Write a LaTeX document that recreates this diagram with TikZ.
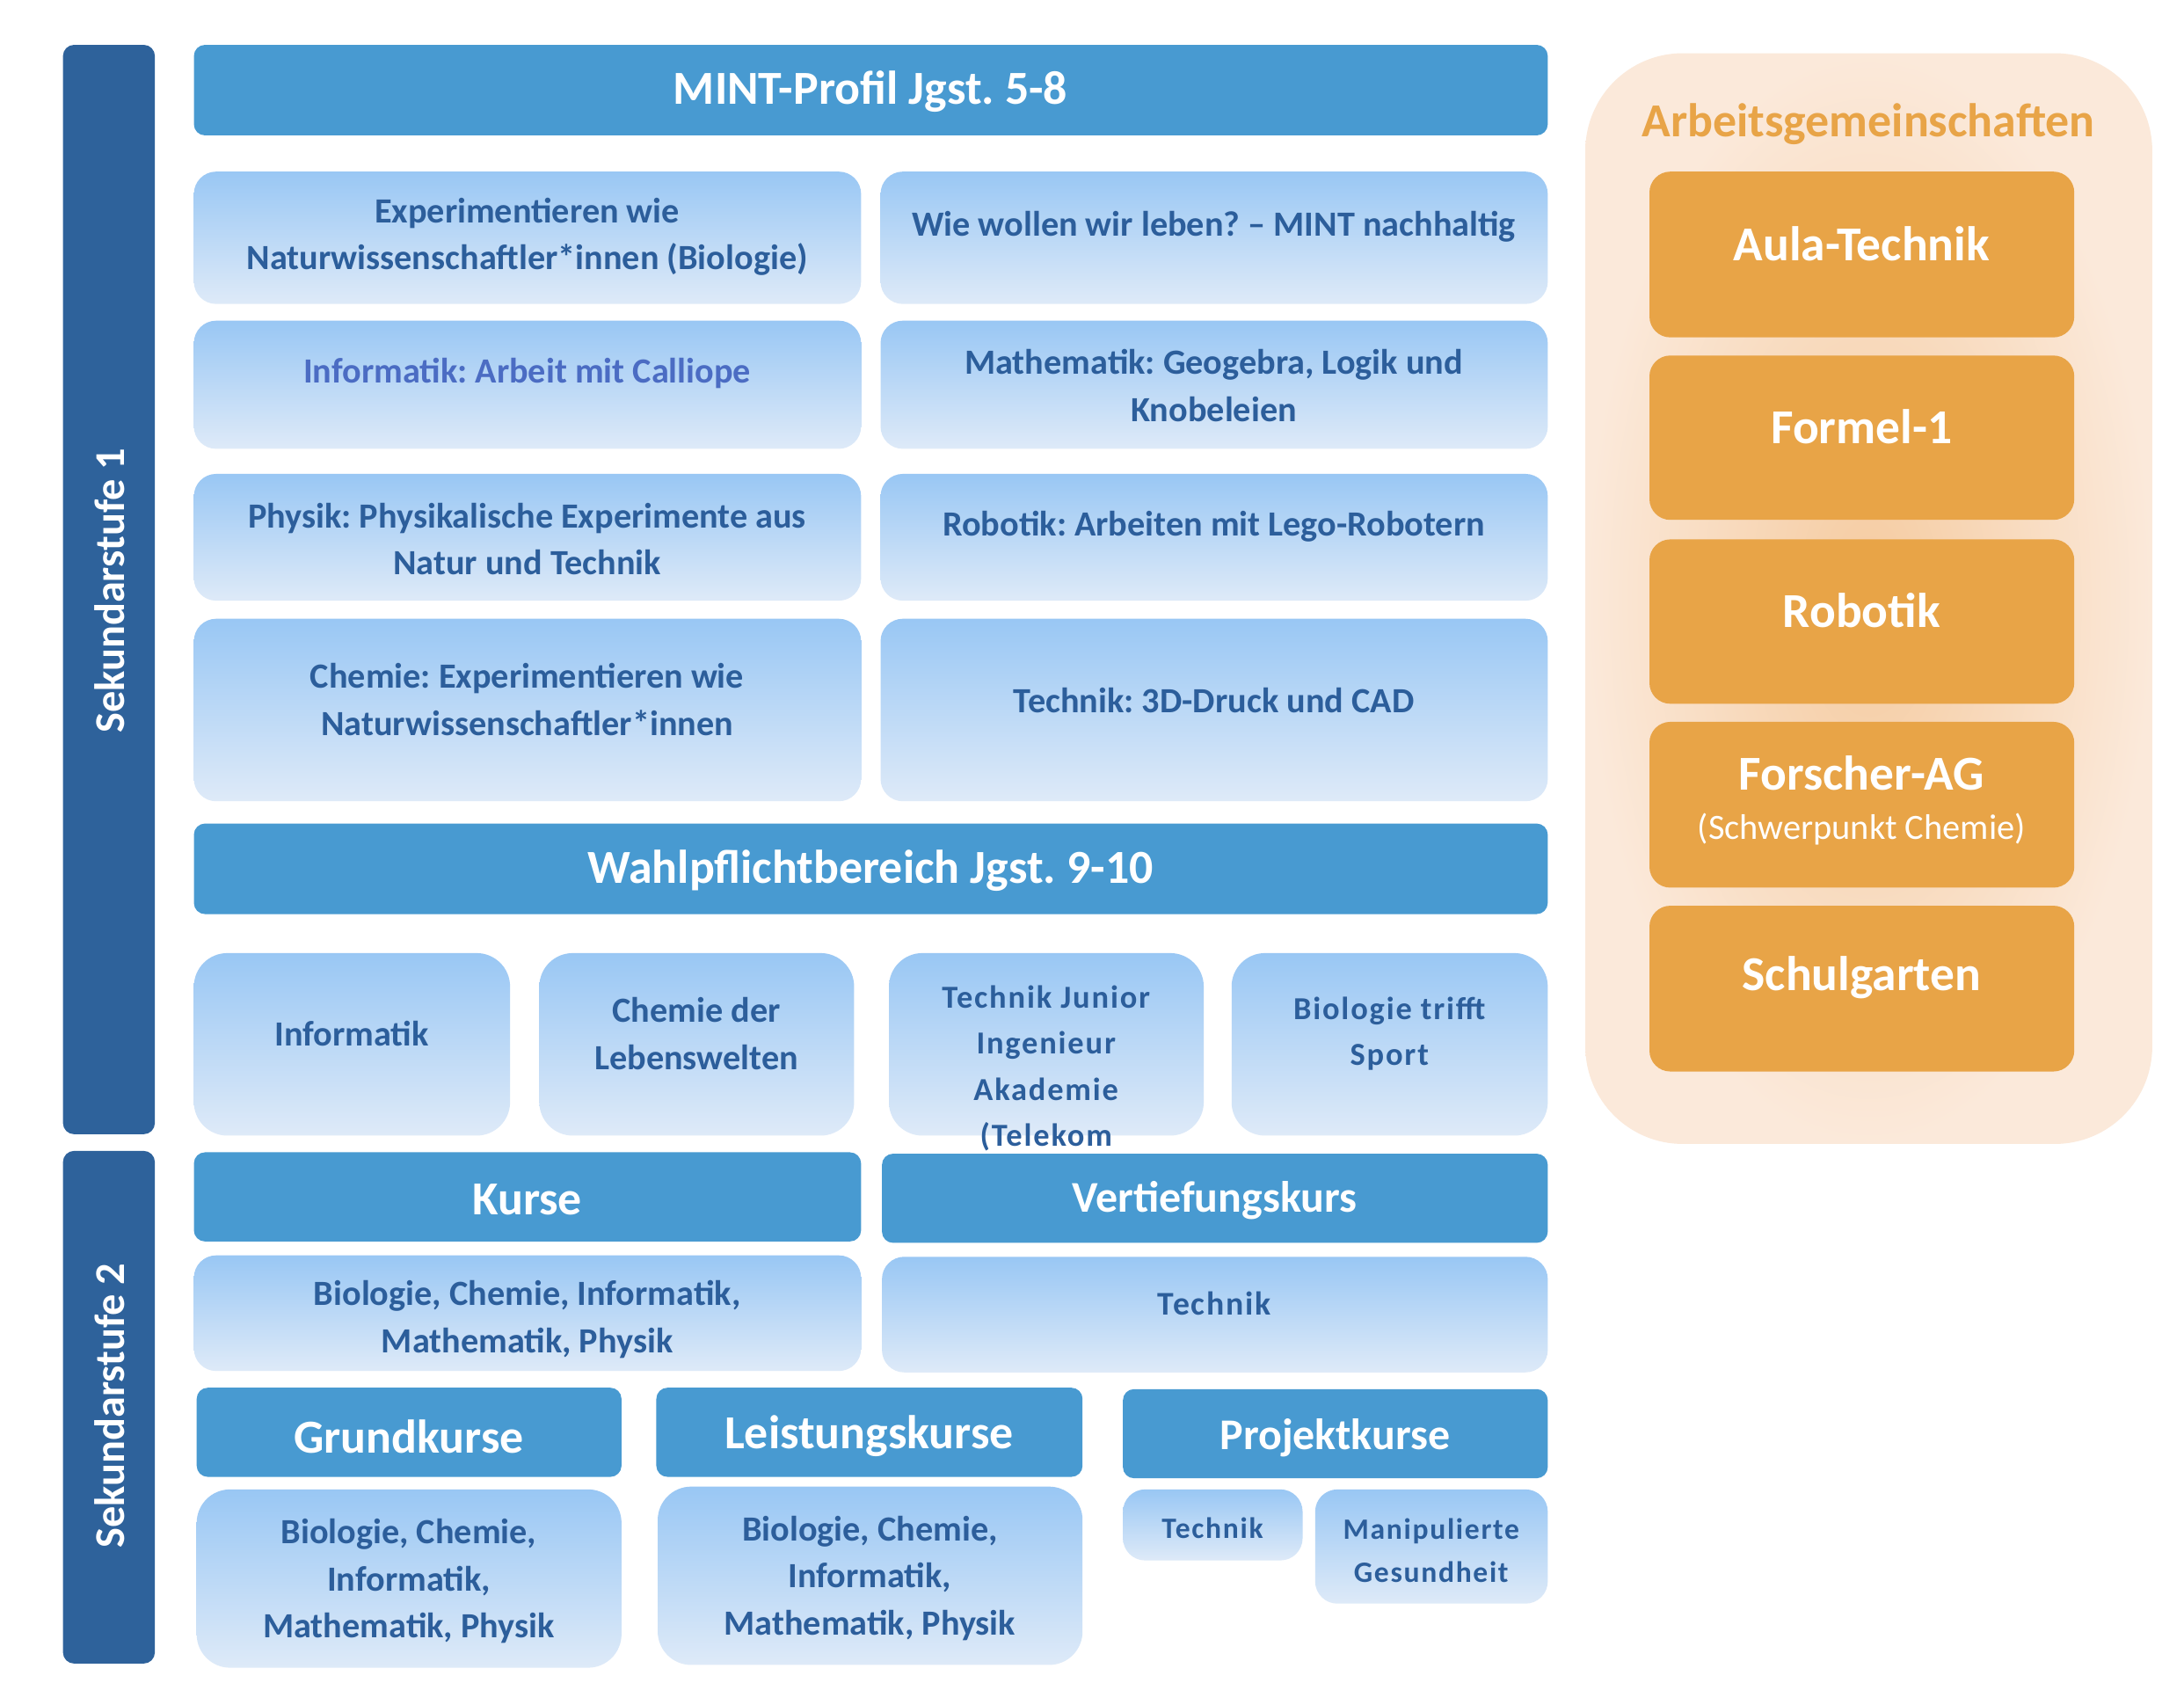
\documentclass[tikz,border=0pt]{standalone}
\usepackage{fontspec}
\setmainfont{Carlito}
\newfontfamily\widef{Carlito}[LetterSpace=5]
\frenchspacing
\definecolor{hdr}{HTML}{489AD1}
\definecolor{sek}{HTML}{2E629B}
\definecolor{bxtop}{HTML}{99C7F4}
\definecolor{bxbot}{HTML}{DEEAF8}
\definecolor{txtb}{HTML}{2C5E9B}
\definecolor{calli}{HTML}{4B6CC3}
\definecolor{org}{HTML}{E8A447}
\definecolor{peachin}{HTML}{F5CBA0}
\definecolor{peachout}{HTML}{FBE9DA}
\newcommand\bx[6]{\node[#2, anchor=north west, inner sep=0pt, minimum width={(#5)-(#3)}, minimum height={(#6)-(#4)}] (#1) at (#3,#4) {};}
\tikzset{
  hdrbox/.style={fill=hdr, rounded corners=8pt},
  sekbar/.style={fill=sek, rounded corners=8pt},
  cbox/.style={top color=bxtop, bottom color=bxbot, rounded corners=16pt},
  wbox/.style={top color=bxtop, bottom color=bxbot, rounded corners=24pt},
  obox/.style={fill=org, rounded corners=15pt},
  agbox/.style={inner color=peachin, outer color=peachout, rounded corners=70pt},
  htxt/.style={text=white, font=\bfseries\fontsize{34}{38}\selectfont},
  h2txt/.style={text=white, font=\bfseries\fontsize{34}{38}\selectfont},
  h3txt/.style={text=white, font=\bfseries\fontsize{31.5}{36}\selectfont},
  ctxt/.style={text=txtb, align=center, font=\bfseries\fontsize{25.4}{34}\selectfont},
  wtxt/.style={text=txtb, align=center, font=\widef\bfseries\fontsize{23}{33}\selectfont},
  ptxt/.style={text=txtb, align=center, font=\widef\bfseries\fontsize{21.2}{31}\selectfont},
  otxt/.style={text=white, font=\bfseries\fontsize{35}{40}\selectfont},
  sektxt/.style={text=white, rotate=90, font=\bfseries\fontsize{30.5}{34}\selectfont}
}
\begin{document}
\begin{tikzpicture}[x=1pt,y=-1pt]
\useasboundingbox (0,0) rectangle (1568,1208);
\fill[white] (0,0) rectangle (1568,1208);
% Sekundarstufe bars
\bx{s1}{sekbar}{45}{32}{111}{814}
\node[sektxt] (s1t) at (79,424) {Sekundarstufe 1};
\bx{s2}{sekbar}{45}{826}{111}{1194}
\node[sektxt] (s2t) at (79,1009) {Sekundarstufe 2};
% MINT
\bx{mint}{hdrbox}{139}{32}{1111}{97}
\node[htxt] (mintt) at (625,66) {MINT-Profil Jgst. 5-8};
\bx{exp}{cbox}{139}{123}{618}{218}
\node[ctxt] (expt) at (378.5,170) {Experimentieren wie\\Naturwissenschaftler*innen (Biologie)};
\bx{wie}{cbox}{632}{123}{1111}{218}
\node[ctxt] (wiet) at (871.5,163) {Wie wollen wir leben? – MINT nachhaltig};
\bx{inf}{cbox}{139}{230}{618}{322}
\node[ctxt, text=calli] (inft) at (378.5,268) {Informatik: Arbeit mit Calliope};
\bx{mat}{cbox}{632}{230}{1111}{322}
\node[ctxt] (matt) at (871.5,277) {Mathematik: Geogebra, Logik und\\Knobeleien};
\bx{phy}{cbox}{139}{340}{618}{431}
\node[ctxt] (phyt) at (378.5,387) {Physik: Physikalische Experimente aus\\Natur und Technik};
\bx{rob}{cbox}{632}{340}{1111}{431}
\node[ctxt] (robt) at (871.5,378) {Robotik: Arbeiten mit Lego-Robotern};
\bx{che}{cbox}{139}{444}{618}{575}
\node[ctxt] (chet) at (378.5,502) {Chemie: Experimentieren wie\\Naturwissenschaftler*innen};
\bx{tec}{cbox}{632}{444}{1111}{575}
\node[ctxt] (tect) at (871.5,503) {Technik: 3D-Druck und CAD};
% Wahlpflicht
\bx{wahl}{hdrbox}{139}{591}{1111}{656}
\node[htxt] (wahlt) at (625,625) {Wahlpflichtbereich Jgst. 9-10};
\bx{w1}{wbox}{139}{684}{366}{815}
\node[ctxt] (w1t) at (252.5,742) {Informatik};
\bx{w2}{wbox}{387}{684}{613}{815}
\node[ctxt] (w2t) at (500,742) {Chemie der\\Lebenswelten};
\bx{w3}{wbox}{638}{684}{864}{815}
\node[wtxt] (w3t) at (751,767) {Technik Junior\\Ingenieur\\Akademie\\(Telekom};
\bx{w4}{wbox}{884}{684}{1111}{815}
\node[wtxt] (w4t) at (997.5,742) {Biologie trifft\\Sport};
% Sek 2
\bx{kurse}{hdrbox}{139}{827}{618}{891}
\node[h2txt] (kurset) at (378.5,861) {Kurse};
\bx{vert}{hdrbox}{633}{828}{1111}{892}
\node[h3txt] (vertt) at (872,862) {Vertiefungskurs};
\bx{kc}{cbox}{139}{901}{618}{984}
\node[ctxt] (kct) at (378.5,947) {Biologie, Chemie, Informatik,\\Mathematik, Physik};
\bx{vc}{cbox}{633}{902}{1111}{985}
\node[wtxt, font=\widef\bfseries\fontsize{23.8}{33}\selectfont] (vct) at (872,936) {Technik};
\bx{gk}{hdrbox}{141}{996}{446}{1060}
\node[h2txt] (gkt) at (293.5,1031) {Grundkurse};
\bx{lk}{hdrbox}{471}{996}{777}{1060}
\node[h2txt] (lkt) at (624,1031) {Leistungskurse};
\bx{pk}{hdrbox}{806}{997}{1111}{1061}
\node[h3txt] (pkt) at (958.5,1032) {Projektkurse};
\bx{gc}{wbox}{141}{1069}{446}{1197}
\node[ctxt] (gct) at (293.5,1135) {Biologie, Chemie,\\Informatik,\\Mathematik, Physik};
\bx{lc}{wbox}{472}{1067}{777}{1195}
\node[ctxt] (lct) at (624.5,1133) {Biologie, Chemie,\\Informatik,\\Mathematik, Physik};
\bx{pt}{cbox}{806}{1069}{935}{1120}
\node[ptxt] (ptt) at (870.5,1097) {Technik};
\bx{pm}{cbox}{944}{1069}{1111}{1151}
\node[ptxt] (pmt) at (1027.5,1113) {Manipulierte\\Gesundheit};
% Arbeitsgemeinschaften
\bx{ag}{agbox}{1138}{38}{1545}{821}
\node[text=org, font=\bfseries\fontsize{34}{38}\selectfont] (agt) at (1341.5,89) {Arbeitsgemeinschaften};
\bx{o1}{obox}{1184}{123}{1489}{242}
\node[otxt] (o1t) at (1336.5,175) {Aula-Technik};
\bx{o2}{obox}{1184}{255}{1489}{373}
\node[otxt] (o2t) at (1336.5,306) {Formel-1};
\bx{o3}{obox}{1184}{387}{1489}{505}
\node[otxt] (o3t) at (1336.5,438) {Robotik};
\bx{o4}{obox}{1184}{518}{1489}{637}
\node[otxt] (o4t) at (1336.5,555) {Forscher-AG};
\node[text=white, font=\fontsize{25.5}{30}\selectfont] (o4s) at (1336.5,595) {(Schwerpunkt Chemie)};
\bx{o5}{obox}{1184}{650}{1489}{769}
\node[otxt] (o5t) at (1336.5,702) {Schulgarten};
\end{tikzpicture}
\end{document}
